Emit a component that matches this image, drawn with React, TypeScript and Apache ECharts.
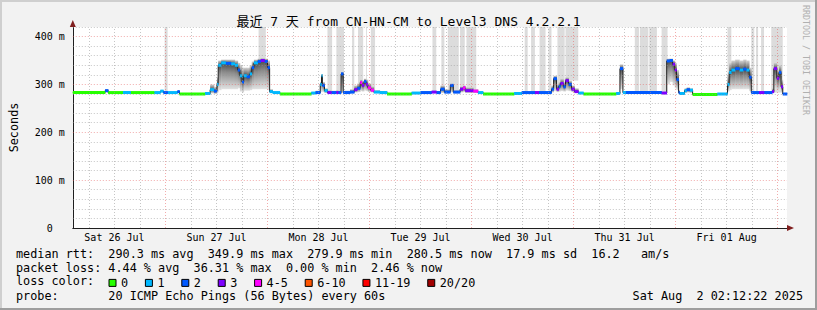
import React, { useEffect, useRef } from 'react';
import * as echarts from 'echarts';

// time in hours since Sat 26 Jul 00:00; each value holds until the next time
const hours = [
  2.2, 9.8, 10.5, 14.0, 15.8, 21.4, 22.8, 23.5, 24.5, 26.8,
  27.3, 33.3, 34.5, 35.4, 36.1, 36.4, 37.1, 38.2, 39.4, 40.3,
  41.0, 41.5, 42.0, 42.4, 43.1, 43.8, 44.3, 44.8, 45.7, 46.4,
  47.3, 48.0, 48.5, 49.2, 50.9, 58.3, 59.3, 60.4, 60.7, 60.9,
  61.4, 62.1, 63.0, 64.2, 64.6, 65.3, 65.8, 67.4, 68.4, 69.1,
  69.8, 70.2, 70.7, 71.2, 71.6, 72.3, 73.0, 74.4, 76.1, 81.9,
  84.0, 86.6, 87.7, 88.7, 89.6, 91.0, 91.7, 93.3, 94.0, 94.5,
  96.4, 97.5, 98.7, 106.0, 107.8, 110.9, 111.8, 114.8, 115.3, 116.0,
  116.5, 116.9, 117.6, 118.1, 118.8, 119.5, 120.2, 121.1, 122.3, 130.0,
  130.9, 131.6, 132.3, 140.7, 141.9, 142.6, 143.3, 143.8, 144.2, 144.7,
  144.9, 146.1, 146.6, 147.3, 148.0, 153.8, 156.2, 156.6, 157.1, 158.0,
  159.0, 159.9, 160.6, 161.3, 161.8, 163.6, 164.8, 166.7, 167.1, 167.8,
  168.3, 168.8, 169.2,
];
const endHour = 170.2;
const startHour = 2.2;

// median rtt in ms
const medianMs = [
  283, 287, 283, 283, 283, 283, 286, 283, 283, 285,
  280, 281, 289, 286, 300, 340, 345, 344, 343, 340,
  330, 318, 305, 318, 316, 322, 335, 345, 348, 350,
  348, 335, 285, 283, 280, 282, 283, 300, 318, 298,
  287, 283, 283, 283, 283, 322, 283, 284, 289, 292,
  304, 298, 306, 300, 293, 288, 284, 283, 280, 282,
  283, 284, 283, 290, 284, 298, 284, 290, 293, 287,
  286, 283, 280, 281, 283, 283, 283, 290, 312, 290,
  296, 302, 295, 308, 300, 290, 285, 282, 280, 281,
  333, 283, 283, 282, 349, 350, 342, 330, 310, 283,
  281, 287, 289, 288, 279, 280, 300, 325, 330, 333,
  330, 332, 330, 315, 283, 283, 283, 285, 333, 313,
  325, 295, 280,
];

// lost pings out of 20
const lossPings = [
  0, 2, 0, 1, 0, 1, 1, 2, 1, 2,
  0, 1, 1, 2, 1, 1, 1, 2, 1, 1,
  2, 1, 2, 1, 2, 1, 2, 1, 2, 3,
  2, 2, 1, 1, 0, 1, 2, 1, 1, 2,
  1, 3, 2, 3, 2, 2, 2, 2, 3, 2,
  4, 3, 2, 3, 4, 4, 1, 1, 0, 1,
  2, 3, 2, 2, 2, 2, 2, 3, 4, 3,
  4, 1, 0, 1, 2, 3, 2, 2, 2, 3,
  2, 3, 2, 3, 2, 3, 3, 1, 0, 1,
  2, 1, 2, 3, 2, 2, 3, 3, 2, 2,
  1, 1, 2, 1, 0, 1, 1, 1, 1, 2,
  1, 2, 1, 2, 2, 3, 2, 3, 3, 3,
  2, 3, 2,
];

// smoke (spread of the 20 pings), ms
const smokeLow = [
  282, 283, 282, 282, 282, 282, 283, 282, 282, 282,
  279, 279, 281, 280, 283, 288, 290, 290, 290, 290,
  292, 285, 283, 287, 287, 288, 290, 290, 290, 290,
  290, 288, 282, 282, 279, 280, 281, 284, 286, 284,
  282, 281, 281, 281, 281, 285, 281, 281, 283, 284,
  286, 285, 287, 286, 284, 283, 282, 281, 279, 280,
  281, 282, 281, 282, 281, 283, 281, 283, 284, 282,
  282, 281, 279, 280, 281, 281, 281, 283, 286, 284,
  285, 286, 285, 287, 286, 284, 282, 280, 279, 280,
  290, 281, 281, 281, 300, 305, 298, 292, 288, 281,
  280, 282, 283, 282, 278, 279, 285, 288, 290, 290,
  290, 290, 290, 286, 281, 281, 281, 282, 290, 286,
  288, 283, 279,
];
const smokeHigh = [
  284, 290, 284, 285, 284, 285, 288, 285, 285, 287,
  281, 284, 300, 295, 315, 350, 352, 352, 352, 350,
  345, 340, 335, 335, 335, 340, 348, 352, 354, 355,
  354, 350, 290, 285, 281, 284, 287, 305, 322, 305,
  292, 288, 287, 288, 287, 326, 287, 290, 298, 302,
  310, 308, 312, 310, 302, 296, 288, 286, 281, 284,
  286, 287, 286, 298, 290, 302, 288, 296, 298, 294,
  290, 285, 281, 283, 286, 286, 286, 298, 318, 300,
  305, 312, 305, 315, 308, 298, 292, 284, 281, 284,
  342, 286, 286, 285, 354, 354, 350, 345, 330, 288,
  284, 292, 294, 292, 280, 282, 320, 345, 350, 352,
  350, 352, 350, 335, 286, 286, 286, 292, 345, 330,
  340, 310, 282,
];

// intervals (hours) where the smoke reaches the top of the graph
const spikeFrom = [
  23.8, 45.9, 62.1, 64.2, 67.9, 69.3, 71.2, 72.3, 86.8, 88.9,
  90.4, 93.3, 94.8, 108.5, 110.0, 112.0, 114.1, 116.2, 118.1, 134.4,
  135.6, 137.8, 140.7, 156.2, 161.8, 162.9, 164.1, 166.5,
];
const spikeTo = [
  24.5, 47.6, 63.2, 66.0, 68.4, 70.5, 71.4, 73.3, 87.7, 89.6,
  93.0, 94.4, 97.1, 109.2, 110.9, 113.4, 114.8, 117.9, 121.1, 135.4,
  137.6, 139.6, 142.1, 157.1, 162.5, 163.4, 164.8, 169.2,
];

const lossBuckets = ['0', '1', '2', '3', '4-5', '6-10', '11-19', '20/20'];
const bucketMax = [0, 1, 2, 3, 5, 10, 19, 20];
const lossColors = ['#26ff00', '#00b8ff', '#0059ff', '#7e00ff', '#ff00ff', '#ff5500', '#ff0000', '#a10000'];

const dayNoons = [12, 36, 60, 84, 108, 132, 156];
const dayLabels = ['Sat 26 Jul', 'Sun 27 Jul', 'Mon 28 Jul', 'Tue 29 Jul', 'Wed 30 Jul', 'Thu 31 Jul', 'Fri 01 Aug'];
const yMax = 420;

const titleText = '最近 7 天 from CN-HN-CM to Level3 DNS 4.2.2.1';
const rttRow = 'median rtt:  290.3 ms avg  349.9 ms max  279.9 ms min  280.5 ms now  17.9 ms sd  16.2   am/s';
const lossRow = 'packet loss: 4.44 % avg  36.31 % max  0.00 % min  2.46 % now';
const lossLabel = 'loss color:';
const probeRow = 'probe:       20 ICMP Echo Pings (56 Bytes) every 60s';
const dateRow = 'Sat Aug  2 02:12:22 2025';
const watermark = 'RRDTOOL / TOBI OETIKER';

const MONO = '"DejaVu Sans Mono", "Noto Sans CJK SC", monospace';
const MINOR = 'rgba(150,150,150,0.55)';
const MAJOR = 'rgba(230,90,90,0.5)';

function buildOption() {
  const n = hours.length;
  const stepEnd = (i: number) => (i + 1 < n ? hours[i + 1] : endHour);
  const valueAt = (arr: number[], h: number) => {
    let k = 0;
    for (let i = 0; i < n; i++) if (hours[i] <= h) k = i;
    return arr[k];
  };
  const bucketOf = (loss: number) => bucketMax.findIndex((m) => loss <= m);

  const smokeData = hours.map((h, i) => [h, stepEnd(i), smokeLow[i], smokeHigh[i], medianMs[i]]);
  const spikeData = spikeFrom.map((f, i) => [f, spikeTo[i], valueAt(medianMs, f)]);
  const medianLine = hours.map((h, i) => [h, medianMs[i]]).concat([[endHour, medianMs[n - 1]]]);

  const gridLines: any[] = [];
  for (let h = 6; h <= 168; h += 6) {
    gridLines.push({ xAxis: h, lineStyle: { color: h % 24 === 0 ? MAJOR : MINOR, type: [1, 2], width: 1 } });
  }
  for (let v = 20; v <= yMax; v += 20) {
    gridLines.push({ yAxis: v, lineStyle: { color: v % 100 === 0 ? MAJOR : MINOR, type: [1, 2], width: 1 } });
  }

  const bucketSeries = lossBuckets.map((name, b) => ({
    type: 'custom',
    name,
    z: 4,
    itemStyle: { color: lossColors[b] },
    encode: { x: [0, 1], y: 2 },
    data: hours
      .map((h, i) => [h, stepEnd(i), medianMs[i], lossPings[i]])
      .filter((d) => bucketOf(d[3]) === b),
    renderItem: (params: any, api: any) => {
      const p0 = api.coord([api.value(0), api.value(2)]);
      const p1 = api.coord([api.value(1), api.value(2)]);
      return {
        type: 'rect',
        shape: { x: p0[0], y: p0[1] - 1.5, width: p1[0] - p0[0] + 0.3, height: 3 },
        style: { fill: lossColors[b] },
      };
    },
  }));

  return {
    animation: false,
    backgroundColor: '#f2f2f2',
    title: {
      text: titleText,
      left: 'center',
      top: 13,
      padding: 0,
      textStyle: { fontFamily: MONO, fontSize: 13, fontWeight: 'normal', color: '#000', lineHeight: 16 },
    },
    grid: { left: 67, top: 27, width: 720, height: 201, show: true, backgroundColor: '#ffffff', borderWidth: 0 },
    legend: {
      data: lossBuckets.map((name) => ({ name, icon: 'rect' })),
      left: 108.5,
      top: 277,
      padding: 0,
      itemWidth: 7,
      itemHeight: 7,
      itemGap: 16.8,
      selectedMode: false,
      itemStyle: { borderColor: '#000', borderWidth: 1 },
      textStyle: { fontFamily: MONO, fontSize: 11.8, color: '#000' },
    },
    xAxis: [
      {
        type: 'value',
        min: startHour,
        max: endHour,
        axisLine: { show: true, lineStyle: { color: '#1f1f1f', width: 1 } },
        axisTick: { show: false },
        splitLine: { show: false },
        axisLabel: {
          customValues: dayNoons,
          margin: 4,
          fontFamily: MONO,
          fontSize: 10,
          color: '#000',
          formatter: (v: number) => {
            const k = dayNoons.findIndex((d) => Math.abs(d - v) < 0.01);
            return k >= 0 ? dayLabels[k] : '';
          },
        },
      },
      {
        type: 'value',
        position: 'bottom',
        min: startHour,
        max: endHour,
        axisLine: {
          show: true,
          symbol: ['none', 'triangle'],
          symbolSize: [6, 7],
          symbolOffset: [0, 3.5],
          lineStyle: { color: '#801f1f', width: 0 },
        },
        axisTick: { show: false },
        axisLabel: { show: false },
        splitLine: { show: false },
      },
    ],
    yAxis: [
      {
        type: 'value',
        min: 0,
        max: yMax,
        interval: 100,
        name: 'Seconds',
        nameLocation: 'middle',
        nameRotate: 90,
        nameGap: 53,
        nameTextStyle: { fontFamily: MONO, fontSize: 11.8, color: '#000' },
        axisLine: { show: true, lineStyle: { color: '#1f1f1f', width: 1 } },
        axisTick: { show: false },
        splitLine: { show: false },
        axisLabel: {
          margin: 8,
          fontFamily: MONO,
          fontSize: 10,
          color: '#000',
          formatter: (v: number) => (v === 0 ? '{z|0}' : v % 100 === 0 ? `${v} m` : ''),
          rich: { z: { fontFamily: MONO, fontSize: 10, color: '#000', padding: [0, 12, 0, 0] } },
        },
      },
      {
        type: 'value',
        position: 'left',
        min: 0,
        max: yMax,
        interval: 100,
        axisLine: {
          show: true,
          symbol: ['none', 'triangle'],
          symbolSize: [6, 7],
          symbolOffset: [0, 3.5],
          lineStyle: { color: '#801f1f', width: 0 },
        },
        axisTick: { show: false },
        axisLabel: { show: false },
        splitLine: { show: false },
      },
    ],
    series: [
      {
        type: 'custom',
        name: 'spikes',
        z: 1,
        encode: { x: [0, 1], y: 2 },
        data: spikeData,
        renderItem: (params: any, api: any) => {
          const p0 = api.coord([api.value(0), yMax]);
          const p1 = api.coord([api.value(1), api.value(2)]);
          return {
            type: 'rect',
            shape: { x: p0[0], y: p0[1], width: p1[0] - p0[0], height: p1[1] - p0[1] },
            style: { fill: '#dcdcdc' },
          };
        },
      },
      {
        type: 'custom',
        name: 'smoke',
        z: 2,
        encode: { x: [0, 1], y: [2, 3, 4] },
        data: smokeData,
        renderItem: (params: any, api: any) => {
          const x0 = api.coord([api.value(0), 0])[0];
          const x1 = api.coord([api.value(1), 0])[0];
          const yLo = api.coord([0, api.value(2)])[1];
          const yHi = api.coord([0, api.value(3)])[1];
          const yMed = api.coord([0, api.value(4)])[1];
          const w = x1 - x0 + 0.4;
          const children: any[] = [];
          if (yMed - yHi > 0.5) {
            children.push({
              type: 'rect',
              shape: { x: x0, y: yHi, width: w, height: yMed - yHi },
              style: {
                fill: new echarts.graphic.LinearGradient(0, 0, 0, 1, [
                  { offset: 0, color: '#d4d4d4' },
                  { offset: 1, color: '#4a4a4a' },
                ]),
              },
            });
          }
          if (yLo - yMed > 0.5) {
            children.push({
              type: 'rect',
              shape: { x: x0, y: yMed, width: w, height: yLo - yMed },
              style: {
                fill: new echarts.graphic.LinearGradient(0, 0, 0, 1, [
                  { offset: 0, color: '#4a4a4a' },
                  { offset: 0.35, color: '#8c8c8c' },
                  { offset: 1, color: '#e2e2e2' },
                ]),
              },
            });
          }
          return { type: 'group', children };
        },
      },
      {
        type: 'line',
        name: 'median',
        z: 3,
        step: 'end',
        symbol: 'none',
        data: medianLine,
        lineStyle: { color: '#202020', width: 1 },
        markLine: {
          silent: true,
          symbol: ['none', 'none'],
          label: { show: false },
          emphasis: { disabled: true },
          data: gridLines,
        },
      },
      ...bucketSeries,
    ],
    graphic: [
      { type: 'rect', shape: { x: 0, y: 0, width: 817, height: 2 }, style: { fill: '#cfcfcf' }, silent: true },
      { type: 'rect', shape: { x: 0, y: 0, width: 2, height: 310 }, style: { fill: '#cfcfcf' }, silent: true },
      { type: 'rect', shape: { x: 0, y: 308, width: 817, height: 2 }, style: { fill: '#9e9e9e' }, silent: true },
      { type: 'rect', shape: { x: 815, y: 0, width: 2, height: 310 }, style: { fill: '#9e9e9e' }, silent: true },
      {
        type: 'text', x: 806, y: 5, rotation: -Math.PI / 2, silent: true,
        style: { text: watermark, fontFamily: MONO, fontSize: 8.3, fill: '#b0b0b0', textAlign: 'left', textVerticalAlign: 'middle' },
      },
      { type: 'text', x: 16, y: 254, silent: true, style: { text: rttRow, fontFamily: MONO, fontSize: 11.8, fill: '#000', textAlign: 'left', textVerticalAlign: 'middle' } },
      { type: 'text', x: 16, y: 268, silent: true, style: { text: lossRow, fontFamily: MONO, fontSize: 11.8, fill: '#000', textAlign: 'left', textVerticalAlign: 'middle' } },
      { type: 'text', x: 16, y: 280.5, silent: true, style: { text: lossLabel, fontFamily: MONO, fontSize: 11.8, fill: '#000', textAlign: 'left', textVerticalAlign: 'middle' } },
      { type: 'text', x: 16, y: 295.5, silent: true, style: { text: probeRow, fontFamily: MONO, fontSize: 11.8, fill: '#000', textAlign: 'left', textVerticalAlign: 'middle' } },
      { type: 'text', x: 803, y: 295.5, silent: true, style: { text: dateRow, fontFamily: MONO, fontSize: 11.8, fill: '#000', textAlign: 'right', textVerticalAlign: 'middle' } },
    ],
  };
}

export default function App() {
  const ref = useRef<HTMLDivElement>(null);
  useEffect(() => {
    if (!ref.current) return;
    const chart = echarts.init(ref.current, undefined, { renderer: 'svg' });
    chart.setOption(buildOption() as any);
    return () => chart.dispose();
  }, []);
  return <div ref={ref} style={{ position: 'absolute', left: 0, top: 0, width: 817, height: 310 }} />;
}
